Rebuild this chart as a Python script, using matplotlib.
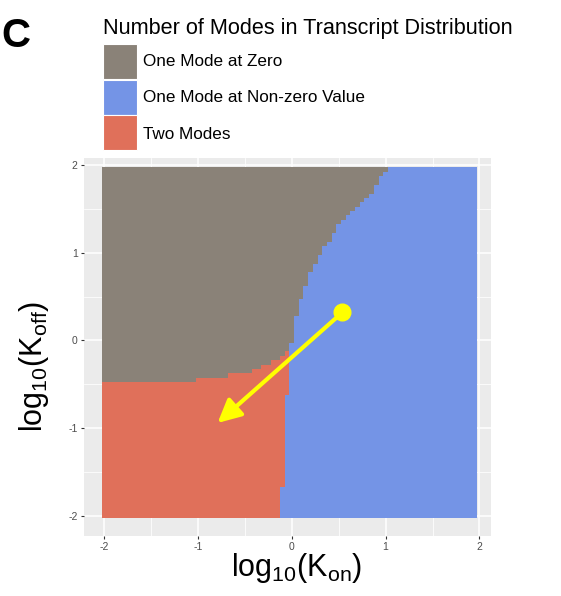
import numpy as np
import matplotlib
matplotlib.use("Agg")
import matplotlib.pyplot as plt
from matplotlib.colors import ListedColormap
from matplotlib.patches import Rectangle

plt.rcParams['font.family'] = ['Liberation Sans', 'DejaVu Sans']
plt.rcParams['mathtext.fontset'] = 'custom'
plt.rcParams['mathtext.rm'] = 'Liberation Sans'
plt.rcParams['mathtext.it'] = 'Liberation Sans'
plt.rcParams['axes.unicode_minus'] = False

# modes and their colours
mode_labels = ["One Mode at Zero", "One Mode at Non-zero Value", "Two Modes"]
mode_colors = ["#8a8278", "#7494e6", "#e0705a"]

# grid of log10(Kon), log10(Koff) values (cell centres)
log_kon = np.round(np.arange(-2.0, 2.0, 0.05), 2)
log_koff = np.round(np.arange(-2.0, 2.0, 0.05), 2)

# boundary zero / non-zero mode: from this Koff row downwards, non-zero mode starts at this Kon
nonzero_rows = [1.95, 1.90, 1.85, 1.75, 1.65, 1.60, 1.55, 1.50, 1.45, 1.40, 1.35,
                1.30, 1.20, 1.10, 1.05, 0.95, 0.85, 0.75, 0.60, 0.45, 0.25,
                -0.05, -0.65, -1.70]
nonzero_start = [1.025, 0.975, 0.925, 0.875, 0.825, 0.775, 0.725, 0.675, 0.625, 0.575, 0.525,
                 0.475, 0.425, 0.375, 0.325, 0.275, 0.225, 0.175, 0.125, 0.075, 0.025,
                 -0.025, -0.075, -0.125]

# bimodal region: from this Koff row downwards, two modes start at this Kon
two_rows = [-0.15, -0.20, -0.25, -0.30, -0.35, -0.40, -0.45, -0.50]
two_start = [-0.075, -0.125, -0.225, -0.325, -0.425, -0.675, -1.025, -2.025]

# trajectory drawn on top
start_pt = (0.54, 0.32)
end_pt = (-0.79, -0.94)

# build the mode grid
modes = np.zeros((len(log_koff), len(log_kon)), dtype=int)
for i, y in enumerate(log_koff):
    k = np.sum(np.array(nonzero_rows) >= y - 1e-9) - 1
    nz = nonzero_start[max(k, 0)]
    if y <= two_rows[0] + 1e-9:
        tw = two_start[np.sum(np.array(two_rows) >= y - 1e-9) - 1]
    else:
        tw = np.inf
    for j, x in enumerate(log_kon):
        if x > nz:
            modes[i, j] = 1
        elif x > tw:
            modes[i, j] = 2
        else:
            modes[i, j] = 0

W, H = 561, 596
fig = plt.figure(figsize=(W / 100, H / 100), dpi=100)
ax = fig.add_axes([84 / W, (H - 536) / H, 406.7 / W, 378.3 / H])
ax.set_facecolor("#ebebeb")

edges_x = np.append(log_kon - 0.025, log_kon[-1] + 0.025)
edges_y = np.append(log_koff - 0.025, log_koff[-1] + 0.025)
ax.pcolormesh(edges_x, edges_y, modes, cmap=ListedColormap(mode_colors),
              vmin=-0.5, vmax=2.5, zorder=2)

# yellow trajectory
ax.plot(*start_pt, 'o', color='#ffff00', markersize=12, zorder=4)
ax.annotate("", xy=end_pt, xytext=start_pt,
            arrowprops=dict(arrowstyle='-|>,head_length=0.7,head_width=0.35',
                            color='#ffff00', lw=3, mutation_scale=20,
                            shrinkA=0, shrinkB=0),
            zorder=3)

ax.set_xlim(-2.213, 2.12)
ax.set_ylim(-2.228, 2.083)
ax.set_xticks([-2, -1, 0, 1, 2])
ax.set_yticks([-2, -1, 0, 1, 2])
ax.set_xticks([-1.5, -0.5, 0.5, 1.5], minor=True)
ax.set_yticks([-1.5, -0.5, 0.5, 1.5], minor=True)
ax.grid(True, which='major', color='white', lw=1.1, zorder=1)
ax.grid(True, which='minor', color='white', lw=0.55, zorder=1)
ax.set_axisbelow(True)
ax.tick_params(which='major', length=2.5, width=0.8, color='#333333',
               labelsize=7.5, labelcolor='#4d4d4d', pad=2)
ax.tick_params(which='minor', length=0)
for s in ax.spines.values():
    s.set_visible(False)

# axis titles
fig.text(297 / W, 1 - 568 / H, r'$\mathrm{log_{10}(K_{on})}$', fontsize=22,
         ha='center', va='center')
fig.text(34 / W, 1 - 366 / H, r'$\mathrm{log_{10}(K_{off})}$', fontsize=22,
         ha='center', va='center', rotation=90)

# legend
fig.text(103 / W, 1 - 34 / H, "Number of Modes in Transcript Distribution",
         fontsize=15.6, ha='left', va='baseline')
key_top = [43.5, 79.5, 115.5]
for top, lab, col in zip(key_top, mode_labels, mode_colors):
    fig.add_artist(Rectangle((103.3 / W, 1 - (top + 35) / H), 33.4 / W, 35 / H,
                             facecolor=col, edgecolor='white', lw=0.8,
                             transform=fig.transFigure))
    fig.text(143 / W, 1 - (top + 18.5) / H, lab, fontsize=12.3, ha='left', va='center')

# panel letter
fig.text(1 / W, 1 - 47 / H, "C", fontsize=29, fontweight='bold', ha='left', va='baseline')

fig.savefig("out.png", dpi=100)
